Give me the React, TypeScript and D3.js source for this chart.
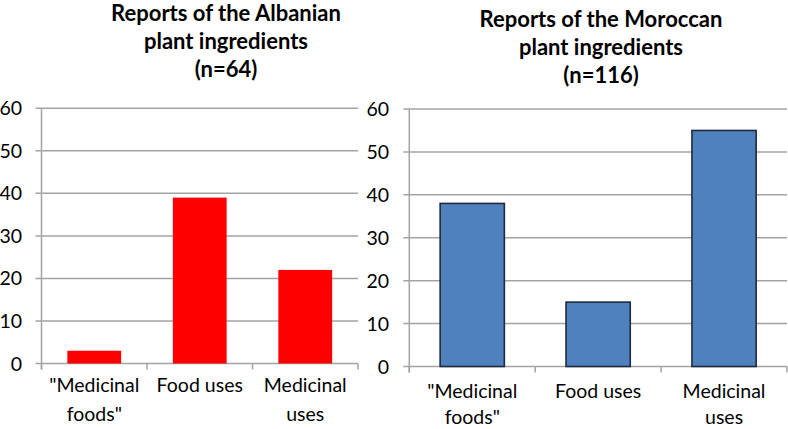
import React from "react";
import * as d3 from "d3";

const categoryLines: string[][] = [["\"Medicinal", "foods\""], ["Food uses"], ["Medicinal", "uses"]];
const albanianValues: number[] = [3, 39, 22];
const moroccanValues: number[] = [38, 15, 55];
const yTicks: number[] = [0, 10, 20, 30, 40, 50, 60];
const albanianTitle: string[] = ["Reports of the Albanian", "plant ingredients", "(n=64)"];
const moroccanTitle: string[] = ["Reports of the Moroccan", "plant ingredients", "(n=116)"];

const FONT = "Lato, 'Open Sans', sans-serif";
const GRID = "#a3a3a3";

type PanelProps = {
  x0: number; x1: number; yTop: number; yBottom: number;
  values: number[]; fill: string; stroke?: string;
  title: string[]; titleX: number; titleY: number;
  labelY: number; labelGap: number; yLabelX: number;
};

function Panel(p: PanelProps) {
  const idx = categoryLines.map((_, i) => String(i));
  const x = d3.scaleBand<string>().domain(idx).range([p.x0, p.x1]).paddingInner(0.49).paddingOuter(0.245);
  const y = d3.scaleLinear().domain([0, 60]).range([p.yBottom, p.yTop]);
  const step = (p.x1 - p.x0) / idx.length;
  const boundaries = d3.range(idx.length + 1).map(i => p.x0 + i * step);
  return (
    <g>
      {p.title.map((t, i) => (
        <text key={"t" + i} x={p.titleX} y={p.titleY + i * 28} textAnchor="middle"
          fontFamily={FONT} fontWeight="bold" fontSize={22} fill="#000">{t}</text>
      ))}
      {yTicks.map(v => (
        <g key={"g" + v}>
          <line x1={p.x0 - 6} x2={p.x1} y1={y(v)} y2={y(v)} stroke={GRID} strokeWidth={1.5} />
          <text x={p.yLabelX} y={y(v)} dy="0.36em" textAnchor="end" fontFamily={FONT} fontSize={19.5} fill="#000">{v}</text>
        </g>
      ))}
      <line x1={p.x0} x2={p.x0} y1={p.yTop} y2={p.yBottom + 6} stroke={GRID} strokeWidth={1.5} />
      {boundaries.map((bx, i) => (
        <line key={"b" + i} x1={bx} x2={bx} y1={p.yBottom} y2={p.yBottom + 6} stroke={GRID} strokeWidth={1.5} />
      ))}
      {p.values.map((v, i) => (
        <rect key={"r" + i} x={x(String(i))!} width={x.bandwidth()} y={y(v)} height={y(0) - y(v)}
          fill={p.fill} stroke={p.stroke ?? "none"} strokeWidth={p.stroke ? 1.6 : 0} />
      ))}
      {categoryLines.map((lines, i) => (
        <text key={"c" + i} textAnchor="middle" fontFamily={FONT} fontSize={19.5} fill="#000">
          {lines.map((l, j) => (
            <tspan key={j} x={x(String(i))! + x.bandwidth() / 2} y={p.labelY + j * p.labelGap}>{l}</tspan>
          ))}
        </text>
      ))}
    </g>
  );
}

export default function App() {
  return (
    <svg width={788} height={429} style={{ position: "absolute", left: 0, top: 0, background: "#fff" }}>
      <rect width={788} height={429} fill="#fff" />
      <Panel x0={41.5} x1={358} yTop={108.3} yBottom={363.5} values={albanianValues} fill="#ff0000"
        title={albanianTitle} titleX={226} titleY={21} labelY={391.5} labelGap={29} yLabelX={22} />
      <Panel x0={409.3} x1={787} yTop={109} yBottom={366.5} values={moroccanValues} fill="#4f81bd" stroke="#1d2a40"
        title={moroccanTitle} titleX={601} titleY={26.5} labelY={397.5} labelGap={26.5} yLabelX={389} />
    </svg>
  );
}
